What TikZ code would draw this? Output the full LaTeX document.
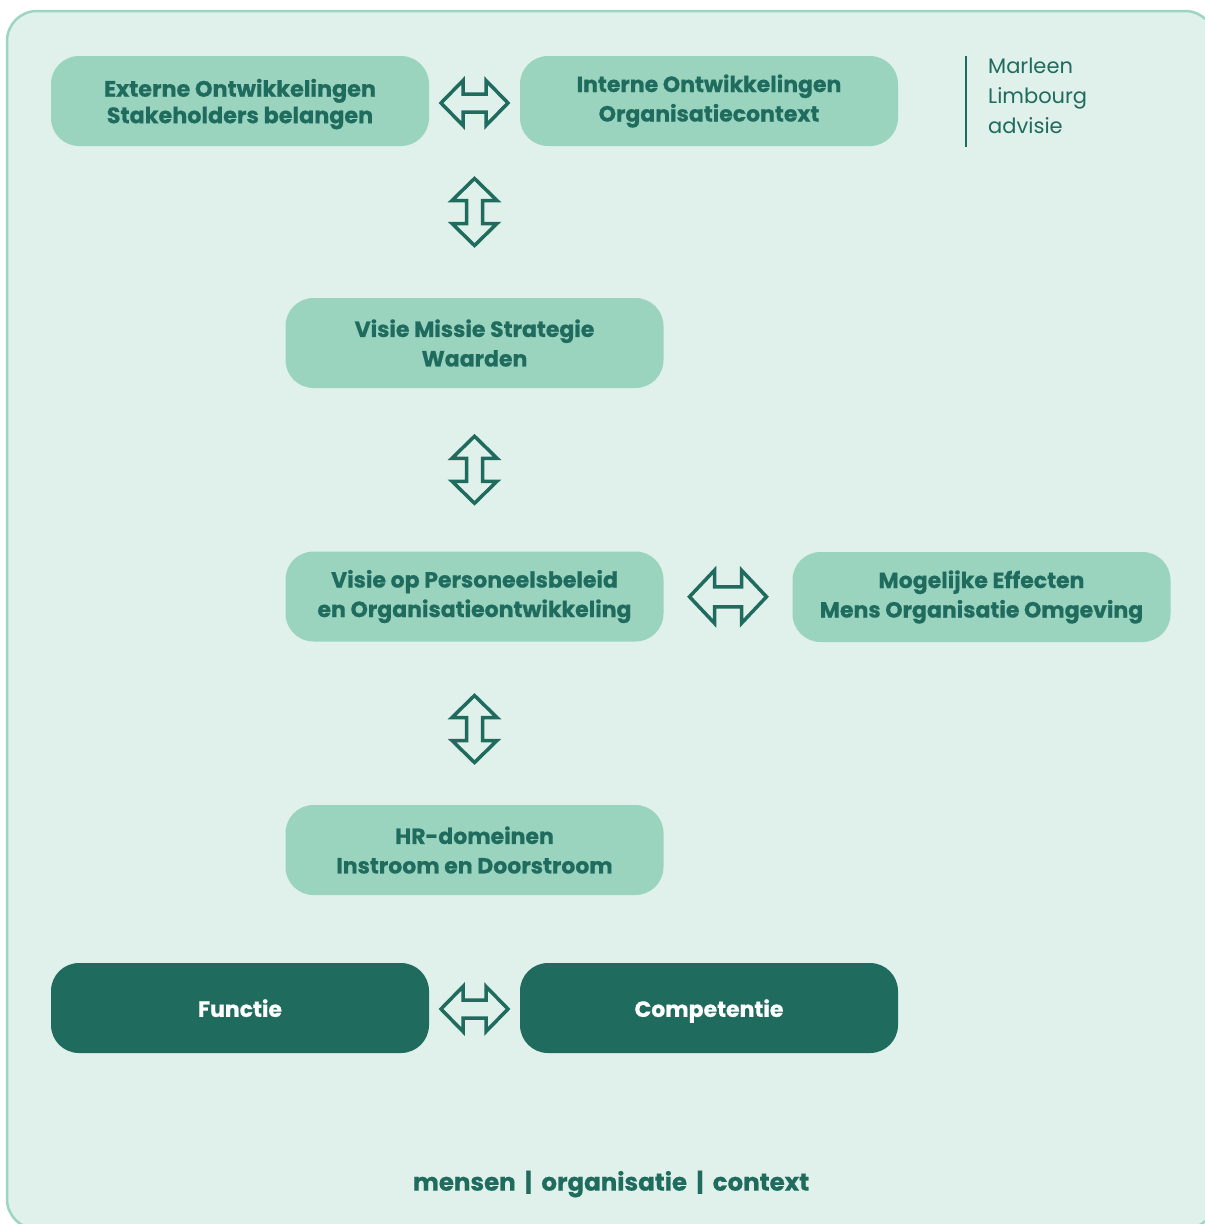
\documentclass[tikz,border=0pt]{standalone}
\usepackage{fontspec}
\setmainfont{Poppins}[BoldFeatures={FakeBold=0.6}]
\usetikzlibrary{calc}
\definecolor{dk}{HTML}{1F6B5E}
\definecolor{boxg}{HTML}{9AD4BF}
\definecolor{bgc}{HTML}{E0F0EA}
\definecolor{frm}{HTML}{9CD6C0}
\tikzset{
  box/.style={rounded corners=28pt, fill=boxg, text=dk, align=center,
    minimum width=378pt, minimum height=90pt, inner sep=0pt,
    font=\bfseries\fontsize{22}{29.5}\selectfont},
  darkbox/.style={box, fill=dk, text=white},
  arrline/.style={draw=dk, line width=3.5pt, line join=miter},
  pics/dblarrow/.style n args={4}{code={%
    \draw[arrline] (-#1/2,0) -- ++(#2,#3) -- ++(0,-#3+#4) -- (#1/2-#2,#4)
      -- ++(0,#3-#4) -- (#1/2,0) -- ++(-#2,-#3) -- ++(0,#3-#4)
      -- (-#1/2+#2,-#4) -- ++(0,-#3+#4) -- cycle;}},
}
\begin{document}
\begin{tikzpicture}[x=1pt,y=-1pt]
\useasboundingbox (0,0) rectangle (1205,1224);
\fill[white] (0,0) rectangle (1205,1224);
\draw[frm, fill=bgc, line width=2.5pt, rounded corners=30pt] (7,11) rectangle (1215,1229);

\node[box, font=\bfseries\fontsize{22.3}{26.5}\selectfont, text depth=0pt] (ext) at (240,101) {Externe Ontwikkelingen\\Stakeholders belangen};
\node[box] (int) at (709,101) {Interne Ontwikkelingen\\Organisatiecontext};
\node[box] (vms) at (474.5,343) {Visie Missie Strategie\\Waarden};
\node[box] (vpo) at (474.5,596.5) {Visie op Personeelsbeleid\\en Organisatieontwikkeling};
\node[box] (eff) at (981.5,597) {Mogelijke Effecten\\Mens Organisatie Omgeving};
\node[box] (hrd) at (474.5,850) {HR-domeinen\\Instroom en Doorstroom};
\node[darkbox] (fun) at (240,1008) {\raisebox{-3pt}{Functie}\strut};
\node[darkbox] (com) at (709,1008) {\raisebox{-3pt}{Competentie}\strut};

\pic (a1) at ($(ext.east)!.5!(int.west)+(0,2)$) {dblarrow={67}{22}{22.5}{9}};
\pic[rotate=90] (a2) at (474.5,212) {dblarrow={67}{22}{22.5}{8}};
\pic[rotate=90] (a3) at ($(vms.south)!.5!(vpo.north)$) {dblarrow={67}{22}{22.5}{8}};
\pic (a4) at ($(vpo.east)!.5!(eff.west)$) {dblarrow={77}{25}{26.5}{10}};
\pic[rotate=90] (a5) at (474.5,729) {dblarrow={67}{22}{22.5}{8}};
\pic (a6) at ($(fun.east)!.5!(com.west)+(0,1)$) {dblarrow={67}{22}{22.5}{9}};

\coordinate (lt) at (966,56);
\coordinate (lb) at (966,147);
\draw[dk, line width=2.5pt] (lt) -- (lb);
\node[anchor=north west, text=dk, align=left, inner sep=0pt,
  font=\fontsize{21}{30}\selectfont] (logo) at (988,58) {Marleen\\Limbourg\\advisie};

\node[text=dk, font=\bfseries\fontsize{24.5}{28}\selectfont] (foot) at (611,1184) {mensen \,|\, organisatie \,|\, context};
\end{tikzpicture}
\end{document}
